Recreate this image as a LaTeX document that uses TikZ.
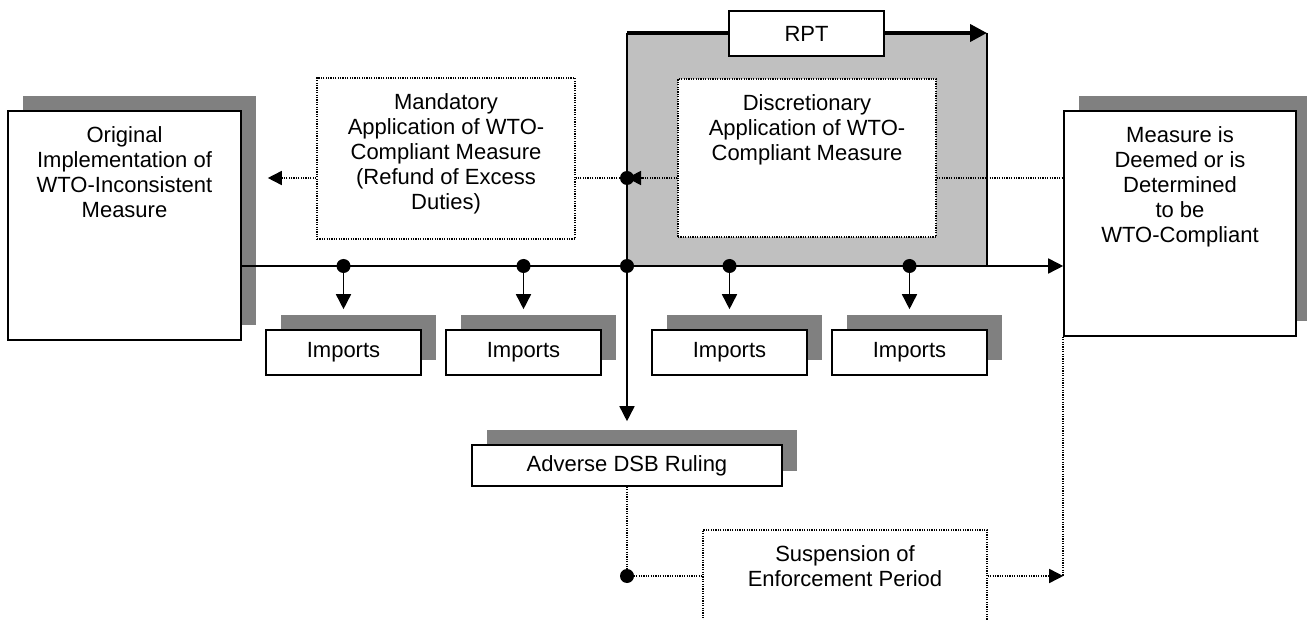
\documentclass[tikz,border=0pt]{standalone}
\usepackage{fontspec}
\setmainfont{Liberation Sans}
\usetikzlibrary{arrows.meta, positioning, shadows}
\definecolor{shadowgray}{HTML}{808080}
\definecolor{rptgray}{HTML}{C0C0C0}
\tikzset{
	box/.style={draw, fill=white, line width=0.8pt, inner sep=0pt},
	shadowbox/.style={box, general shadow={fill=shadowgray, shadow xshift=7.5pt, shadow yshift=7.5pt}},
	dotline/.style={line width=0.8pt, dash pattern=on 0.6pt off 0.6pt},
	dotbox/.style={box, dotline},
	boxtext/.style={align=center, inner sep=0pt},
	importbox/.style={shadowbox, minimum width=77.5pt, minimum height=22.5pt},
	flow/.style={line width=0.8pt, -{Triangle[length=7.5pt, width=7.5pt]}},
	dotflow/.style={dotline, -{Triangle[length=7pt, width=7pt]}},
}

\begin{document}
\begin{tikzpicture}[x=0.5pt, y=-0.5pt, font=\fontsize{11pt}{12.5pt}\selectfont]
	\clip (0,0) rectangle (1307,620);
	\coordinate (rpttl) at (627,33);
	\coordinate (rpttr) at (987,33);
	\coordinate (rptbr) at (987,266);
	\coordinate (rptj) at (627,266);
	\coordinate (dx) at (627,178);
	\coordinate (s0) at (627,576);
	\fill[rptgray] (rpttl) rectangle (rptbr);
	\draw[line width=0.7pt] (rpttr) -- (rptbr);
	\draw[line width=2pt, -{Triangle[length=8.5pt, width=8.5pt]}] (rpttl) -- (rpttr);
	\node[box, minimum width=77.5pt, minimum height=22.5pt] (rpt) at (806.5,33.5) {RPT};
	\node[shadowbox, minimum width=116.5pt, minimum height=114.5pt] (orig) at (124.5,225.5) {};
	\node[boxtext, below=8pt of orig.north] (origtext) {Original\\Implementation of\\WTO-Inconsistent\\Measure};
	\node[shadowbox, minimum width=116pt, minimum height=112.5pt] (final) at (1180,223.5) {};
	\node[boxtext, below=8pt of final.north] (finaltext) {Measure is\\Deemed or is\\Determined\\to be\\WTO-Compliant};
	\node[dotbox, minimum width=129pt, minimum height=80.5pt] (mand) at (446,158.5) {};
	\node[boxtext, below=8pt of mand.north] (mandtext) {Mandatory\\Application of WTO-\\Compliant Measure\\(Refund of Excess\\Duties)};
	\node[dotbox, minimum width=129pt, minimum height=79pt] (disc) at (807,158) {};
	\node[boxtext, below=8pt of disc.north] (disctext) {Discretionary\\Application of WTO-\\Compliant Measure};
	\node[shadowbox, minimum width=155pt, minimum height=20.5pt] (adv) at (627,465.5) {Adverse DSB Ruling};
	\node[dotbox, minimum width=142pt, minimum height=90pt] (susp) at (845,620) {};
	\node[boxtext, below=8pt of susp.north] (susptext) {Suspension of\\Enforcement Period};
	\draw[flow] (orig.east |- rptj) -- (final.west |- rptj);
	\draw[flow, shorten >=11.5pt] (rpttl) -- (adv.north);
	\foreach \x [count=\i] in {343.5,523.5,729.5,909.5} {
		\coordinate (i\i) at (\x,266);
		\node[importbox] (imp\i) at (\x,352.5) {Imports};
		\draw[flow, shorten >=10pt] (i\i) -- (imp\i.north);
	}
	\draw[dotflow] (disc.west |- dx) -- (dx);
	\draw[dotline] (dx) -- (mand.east |- dx);
	\draw[dotflow, shorten >=13pt] (mand.west |- dx) -- (orig.east |- dx);
	\draw[dotline] (disc.east |- dx) -- (final.west |- dx);
	\draw[dotline] (adv.south) -- (s0) -- (susp.west |- s0);
	\draw[dotline] (final.south west) -- (final.south west |- s0);
	\draw[dotflow] (susp.east |- s0) -- (final.south west |- s0);
	\foreach \p in {i1,i2,i3,i4,rptj,dx,s0}
		\fill (\p) circle (3.5pt);
\end{tikzpicture}
\end{document}
